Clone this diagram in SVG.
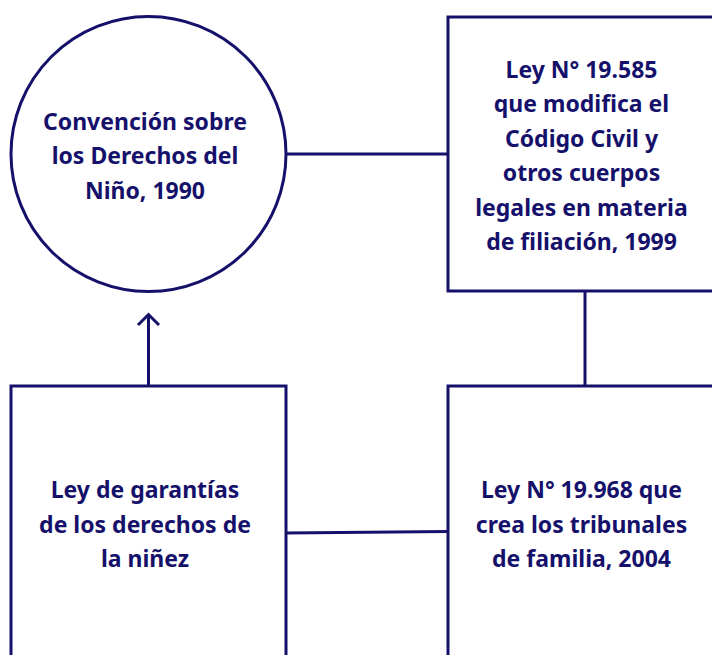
<svg xmlns="http://www.w3.org/2000/svg" width="712" height="655" viewBox="0 0 712 655">
<style>
.shape{fill:#ffffff;stroke:#15116b;stroke-width:3}
.conn{fill:none;stroke:#15116b;stroke-width:3}
.lbl{font-family:"Noto Sans","Liberation Sans",sans-serif;font-weight:700;font-size:23px;fill:#15116b;text-anchor:middle}
</style>
<rect width="712" height="655" fill="#ffffff"/>
<g id="connectors">
<line class="conn" x1="286" y1="154" x2="448" y2="154"/>
<line class="conn" x1="585" y1="291" x2="585" y2="386"/>
<line class="conn" x1="148.5" y1="386" x2="148.5" y2="315"/>
<polyline class="conn" points="138,325 148.5,314.5 159,325"/>
<line class="conn" x1="286" y1="533" x2="448" y2="531.5"/>
</g>
<g id="node-convencion">
<circle class="shape" cx="148.5" cy="154" r="137.5"/>
<text class="lbl"><tspan x="145" y="129.5">Convención sobre</tspan><tspan x="145" y="164">los Derechos del</tspan><tspan x="145" y="198.5">Niño, 1990</tspan></text>
</g>
<g id="node-ley19585">
<rect class="shape" x="448" y="17" width="280" height="274"/>
<text class="lbl"><tspan x="581.5" y="77.7">Ley N° 19.585</tspan><tspan x="581.5" y="112">que modifica el</tspan><tspan x="581.5" y="146.5">Código Civil y</tspan><tspan x="581.5" y="181">otros cuerpos</tspan><tspan x="581.5" y="215.5">legales en materia</tspan><tspan x="581.5" y="250">de filiación, 1999</tspan></text>
</g>
<g id="node-garantias">
<rect class="shape" x="11" y="386" width="275" height="290"/>
<text class="lbl"><tspan x="145" y="498">Ley de garantías</tspan><tspan x="145" y="532.5">de los derechos de</tspan><tspan x="145" y="567">la niñez</tspan></text>
</g>
<g id="node-ley19968">
<rect class="shape" x="448" y="386" width="280" height="290"/>
<text class="lbl"><tspan x="581.5" y="498">Ley N° 19.968 que</tspan><tspan x="581.5" y="532.5">crea los tribunales</tspan><tspan x="581.5" y="567">de familia, 2004</tspan></text>
</g>
</svg>
